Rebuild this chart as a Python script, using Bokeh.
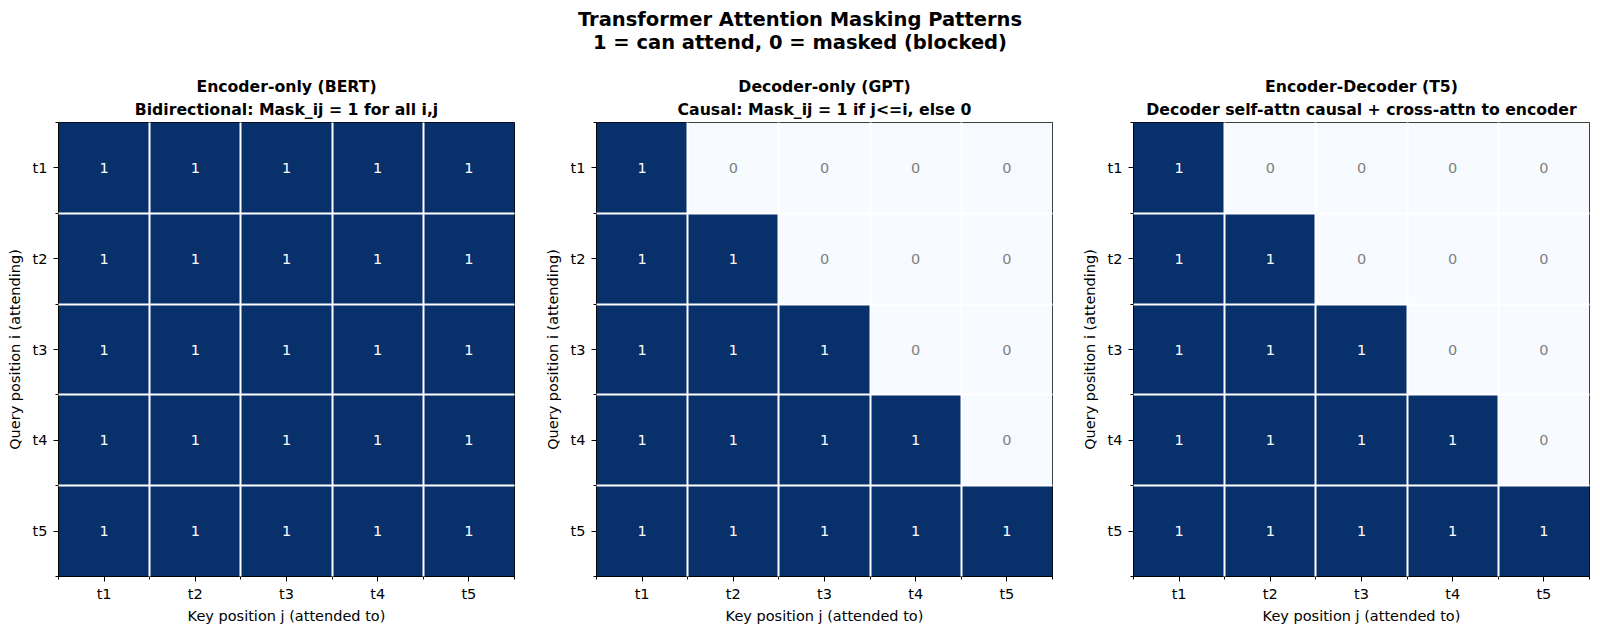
from bokeh.plotting import figure
from bokeh.models import ColumnDataSource, Range1d, FixedTicker, Div, Title
from bokeh.layouts import column, row
from bokeh.embed import file_html
from bokeh.resources import INLINE
from bokeh.core.properties import value

# ---------------- data ----------------
tokens = ["t1", "t2", "t3", "t4", "t5"]

bert_mask = [
    [1, 1, 1, 1, 1],
    [1, 1, 1, 1, 1],
    [1, 1, 1, 1, 1],
    [1, 1, 1, 1, 1],
    [1, 1, 1, 1, 1],
]
gpt_mask = [
    [1, 0, 0, 0, 0],
    [1, 1, 0, 0, 0],
    [1, 1, 1, 0, 0],
    [1, 1, 1, 1, 0],
    [1, 1, 1, 1, 1],
]
t5_mask = [
    [1, 0, 0, 0, 0],
    [1, 1, 0, 0, 0],
    [1, 1, 1, 0, 0],
    [1, 1, 1, 1, 0],
    [1, 1, 1, 1, 1],
]
panel_titles = [
    ("Encoder-only (BERT)", "Bidirectional: Mask_ij = 1 for all i,j"),
    ("Decoder-only (GPT)", "Causal: Mask_ij = 1 if j<=i, else 0"),
    ("Encoder-Decoder (T5)", "Decoder self-attn causal + cross-attn to encoder"),
]
suptitle = ["Transformer Attention Masking Patterns", "1 = can attend, 0 = masked (blocked)"]
xlabel = "Key position j (attended to)"
ylabel = "Query position i (attending)"

# ---------------- style ----------------
FONT = "DejaVu Sans"
DARK = "#08306b"
LIGHT = "#f7fbff"
FRAME_W = 456
FRAME_H = 454
FS = "14.5px"


def make_panel(mask, titles, b_left, b_right):
    xs, ys, fills, labels, tcols = [], [], [], [], []
    for i, r in enumerate(mask):
        for j, v in enumerate(r):
            xs.append(j)
            ys.append(i)
            fills.append(DARK if v == 1 else LIGHT)
            labels.append(str(v))
            tcols.append("white" if v == 1 else "#808080")
    src = ColumnDataSource(dict(x=xs, y=ys, fill=fills, label=labels, tcol=tcols))

    n = len(tokens)
    p = figure(
        frame_width=FRAME_W, frame_height=FRAME_H,
        x_range=Range1d(-0.5, n - 0.5), y_range=Range1d(n - 0.5, -0.5),
        output_backend="svg", toolbar_location=None,
        min_border_left=b_left, min_border_right=b_right,
        min_border_top=60, min_border_bottom=58,
        background_fill_color="white", border_fill_color="white",
    )
    p.rect(x="x", y="y", width=1, height=1, fill_color="fill", line_color=None, source=src)
    p.text(x="x", y="y", text="label", text_color="tcol", text_align="center",
           text_baseline="middle", text_font=value(FONT), text_font_size=FS, source=src)

    major = list(range(n))
    minor = [k - 0.5 for k in range(n + 1)]
    overrides = {k: t for k, t in enumerate(tokens)}
    for ax in (p.xaxis[0], p.yaxis[0]):
        ax.ticker = FixedTicker(ticks=major, minor_ticks=minor)
        ax.major_label_overrides = overrides
        ax.major_label_text_font = FONT
        ax.major_label_text_font_size = FS
        ax.major_label_text_color = "black"
        ax.major_tick_out = 5
        ax.major_tick_in = 0
        ax.minor_tick_out = 3
        ax.minor_tick_in = 0
        ax.major_tick_line_color = "black"
        ax.minor_tick_line_color = "black"
        ax.axis_line_color = "black"
        ax.axis_label_text_font = FONT
        ax.axis_label_text_font_size = FS
        ax.axis_label_text_font_style = "normal"
        ax.axis_label_text_color = "black"
    p.xaxis[0].major_label_standoff = 4
    p.xaxis[0].axis_label_standoff = 3
    p.yaxis[0].major_label_standoff = 6
    p.yaxis[0].axis_label_standoff = 7
    p.xaxis[0].axis_label = xlabel
    p.yaxis[0].axis_label = ylabel
    p.yaxis[0].major_label_orientation = "horizontal"

    for g in (p.xgrid[0], p.ygrid[0]):
        g.grid_line_color = None
        g.minor_grid_line_color = "white"
        g.minor_grid_line_width = 2
        g.level = "overlay"

    p.outline_line_color = "black"
    p.outline_line_width = 1

    # subtitle line (closest to frame) first, then the main line above it
    for k, t in enumerate([titles[1], titles[0]]):
        p.add_layout(Title(text=t, align="center", text_font=FONT, text_font_size="15.7px",
                           text_font_style="bold", text_color="black",
                           standoff=(7 if k == 0 else -3), offset=0), "above")
    return p


p1 = make_panel(bert_mask, panel_titles[0], 58, 26)
p2 = make_panel(gpt_mask, panel_titles[1], 56, 26)
p3 = make_panel(t5_mask, panel_titles[2], 55, 11)

head = Div(
    text=("<div style=\"width:1600px;text-align:center;font-family:'DejaVu Sans';"
          "font-weight:bold;font-size:19.5px;line-height:23px;padding-top:8px;color:black\">"
          + suptitle[0] + "<br>" + suptitle[1] + "</div>"),
    width=1600, height=62, margin=(0, 0, 0, 0),
)

layout = column(head, row(p1, p2, p3, spacing=0), spacing=0)
open("out.html", "w").write(file_html(layout, INLINE))
